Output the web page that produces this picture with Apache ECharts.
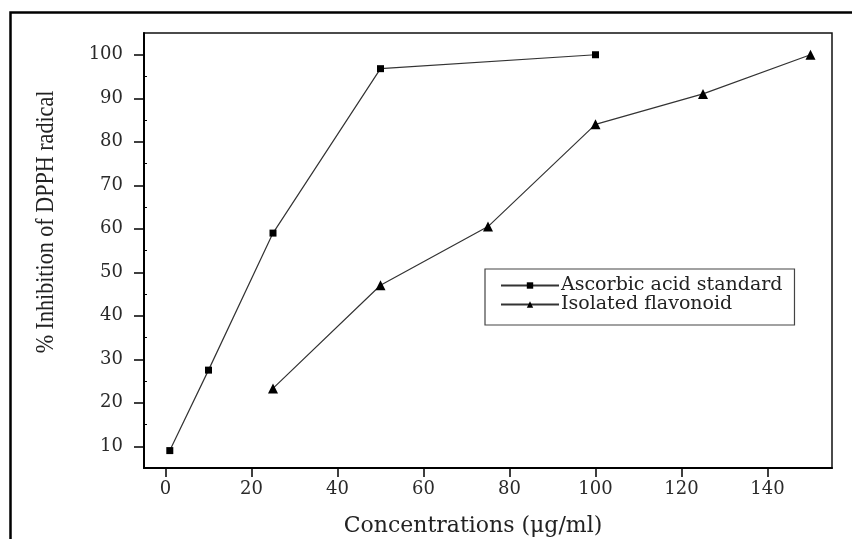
<!DOCTYPE html>
<html>
<head>
<meta charset="utf-8">
<script src="https://cdn.jsdelivr.net/npm/echarts@6/dist/echarts.min.js"></script>
<style>
html,body{margin:0;padding:0;background:#fff;}
#chart{width:852px;height:539px;}
</style>
</head>
<body>
<div id="chart"></div>
<script>
var ascorbicX = [1, 10, 25, 50, 100];
var ascorbicY = [9, 27.5, 59, 96.8, 100];
var flavonoidX = [25, 50, 75, 100, 125, 150];
var flavonoidY = [23.3, 47, 60.5, 84, 91, 100];
var xTicks = [0, 20, 40, 60, 80, 100, 120, 140];
var yTicks = [10, 20, 30, 40, 50, 60, 70, 80, 90, 100];
var yMinorTicks = [15, 25, 35, 45, 55, 65, 75, 85, 95];
var seriesNames = ['Ascorbic acid standard', 'Isolated flavonoid'];
var xTitle = 'Concentrations (\u03bcg/ml)';
var yTitle = '% Inhibition of DPPH radical';

function pairs(xs, ys) { return xs.map(function (x, i) { return [x, ys[i]]; }); }

var chart = echarts.init(document.getElementById('chart'), null, {renderer: 'canvas'});
var tickFont = {color: '#2a2a2a', fontFamily: 'DejaVu Serif', fontSize: 18};
chart.setOption({
  animation: false,
  backgroundColor: '#fff',
  grid: {left: 144, top: 33, right: 20, bottom: 71, show: true, borderColor: '#111', borderWidth: 1.5, backgroundColor: 'transparent'},
  xAxis: {
    type: 'value', min: -5, max: 155,
    axisLine: {show: true, onZero: false, lineStyle: {color: '#000', width: 2}},
    axisTick: {show: true, length: 9, customValues: xTicks, lineStyle: {color: '#000', width: 1.5}},
    axisLabel: {customValues: xTicks, margin: 12, ...tickFont},
    splitLine: {show: false}
  },
  yAxis: [{
    type: 'value', min: 5, max: 105,
    axisLine: {show: true, onZero: false, lineStyle: {color: '#000', width: 2}},
    axisTick: {show: true, length: 10, customValues: yTicks, lineStyle: {color: '#000', width: 1.5}},
    axisLabel: {customValues: yTicks, margin: 21, ...tickFont},
    splitLine: {show: false}
  }, {
    type: 'value', min: 5, max: 105, position: 'left',
    axisLine: {show: false, onZero: false},
    axisTick: {show: true, inside: true, length: 3, customValues: yMinorTicks, lineStyle: {color: '#000', width: 1}},
    axisLabel: {show: false},
    splitLine: {show: false}
  }],
  legend: {
    orient: 'vertical', left: 485, top: 269,
    data: seriesNames,
    itemWidth: 58, itemHeight: 8, itemGap: 0,
    padding: [7, 12, 11, 15],
    borderColor: '#444', borderWidth: 1.2,
    textStyle: {color: '#222', fontFamily: 'DejaVu Serif', fontSize: 19, padding: [0, 0, 0, -3]}
  },
  series: [{
    name: seriesNames[0], type: 'line', data: pairs(ascorbicX, ascorbicY),
    symbol: 'rect', symbolSize: 7, showAllSymbol: true,
    itemStyle: {color: '#000'}, lineStyle: {color: '#333', width: 1.2}
  }, {
    name: seriesNames[1], type: 'line', data: pairs(flavonoidX, flavonoidY),
    symbol: 'triangle', symbolSize: 10, showAllSymbol: true,
    itemStyle: {color: '#000'}, lineStyle: {color: '#333', width: 1.2}
  }],
  graphic: [{
    type: 'rect', silent: true, z: 100,
    shape: {x: 10.5, y: 12.5, width: 1000, height: 1000},
    style: {fill: 'none', stroke: '#000', lineWidth: 2.5}
  }, {
    type: 'text', x: 46, y: 222, rotation: Math.PI / 2, scaleX: 0.85, silent: true,
    style: {text: yTitle, font: '26px "Liberation Serif"', fill: '#222', align: 'center', verticalAlign: 'middle'}
  }, {
    type: 'text', x: 473, y: 526, silent: true,
    style: {text: xTitle, font: '22px "DejaVu Serif"', fill: '#222', align: 'center', verticalAlign: 'middle'}
  }]
});
</script>
</body>
</html>
